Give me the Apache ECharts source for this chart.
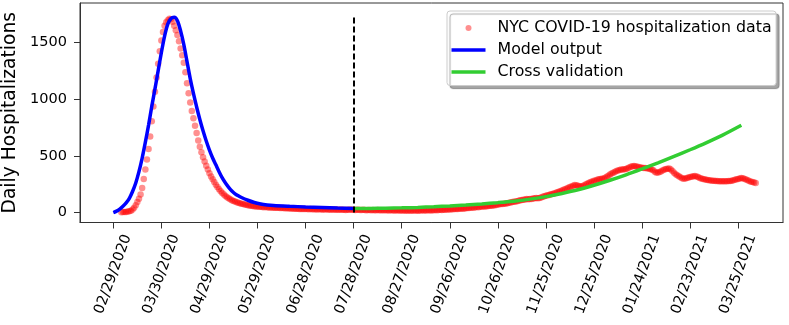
<!DOCTYPE html>
<html><head><meta charset="utf-8">
<script src="https://cdn.jsdelivr.net/npm/echarts@6/dist/echarts.min.js"></script>
<style>html,body{margin:0;padding:0;background:#fff}#c{width:789px;height:325px}</style>
</head><body><div id="c"></div>
<script>
// ---------- data ----------
const startDate = '02/29/2020';
const tickLabels = ['02/29/2020','03/30/2020','04/29/2020','05/29/2020','06/28/2020','07/28/2020',
  '08/27/2020','09/26/2020','10/26/2020','11/25/2020','12/25/2020','01/24/2021','02/23/2021','03/25/2021'];
const yTicks = [0, 500, 1000, 1500];

const redStartDate = '03/05/2020';
const redValues = [
  3, 4, 5, 5, 8, 11, 16, 26, 42, 65,
  92, 122, 158, 215, 295, 380, 468, 560, 670, 805,
  935, 1065, 1190, 1310, 1420, 1515, 1590, 1645, 1676, 1695,
  1708, 1702, 1680, 1645, 1605, 1565, 1510, 1445, 1385, 1320,
  1235, 1140, 1050, 970, 895, 830, 765, 700, 635, 580,
  530, 488, 450, 413, 378, 345, 318, 292, 268, 245,
  225, 206, 188, 172, 158, 146, 135, 125, 117, 109,
  102, 96, 91, 87, 82, 78, 75, 71, 68, 65,
  62, 60, 58, 56, 54, 52, 51, 50, 49, 47,
  48, 46, 45, 44, 45, 43, 42, 41, 42, 40,
  39, 40, 38, 37, 38, 36, 35, 36, 34, 33,
  34, 32, 31, 32, 30, 31, 30, 29, 30, 28,
  29, 28, 27, 29, 28, 27, 26, 27, 28, 26,
  25, 27, 26, 25, 26, 24, 25, 26, 24, 25,
  23, 25, 24, 26, 25, 24, 23, 25, 24, 22,
  23, 24, 22, 21, 23, 22, 21, 22, 20, 21,
  22, 20, 19, 21, 20, 19, 20, 18, 19, 20,
  18, 17, 19, 18, 17, 18, 17, 18, 16, 17,
  18, 16, 17, 18, 17, 16, 17, 18, 19, 17,
  18, 19, 20, 18, 19, 21, 22, 20, 22, 24,
  23, 25, 24, 26, 27, 26, 28, 29, 31, 30,
  32, 33, 35, 34, 36, 38, 40, 39, 42, 44,
  43, 46, 48, 47, 50, 52, 54, 53, 56, 58,
  60, 59, 62, 65, 67, 70, 72, 75, 74, 78,
  80, 82, 86, 88, 92, 95, 98, 100, 104, 107,
  110, 112, 115, 118, 116, 119, 120, 123, 126, 128,
  125, 127, 132, 138, 143, 148, 152, 155, 160, 163,
  168, 172, 178, 183, 188, 194, 200, 206, 211, 218,
  225, 230, 236, 242, 240, 236, 232, 230, 233, 240,
  248, 256, 262, 268, 274, 279, 283, 288, 292, 295,
  298, 300, 306, 315, 325, 335, 343, 350, 358, 365,
  371, 375, 378, 380, 381, 383, 390, 397, 403, 408,
  410, 408, 404, 400, 397, 394, 393, 392, 390, 388,
  384, 380, 372, 360, 350, 352, 358, 364, 372, 378,
  383, 386, 388, 380, 365, 350, 338, 328, 320, 310,
  302, 298, 300, 304, 308, 312, 316, 320, 322, 318,
  312, 305, 300, 296, 292, 289, 286, 284, 282, 280,
  279, 278, 277, 276, 276, 275, 275, 276, 276, 277,
  278, 280, 284, 288, 292, 296, 300, 305, 302, 296,
  290, 284, 278, 272, 268, 264, 260
];

// model output (days since start date)
const blueDays = [0,2,4,6,8,10,12,14,16,18,20,22,24,26,28,30,32,34,36,38,40,42,44,46,48,50,52,54,56,58,60,62,64,66,68,70,72,74,76,78,80,84,88,92,96,100,110,120,130,140,150];
const blueValues = [0,12,30,55,85,125,185,260,360,480,620,770,935,1090,1250,1410,1555,1660,1710,1720,1690,1600,1480,1330,1180,1050,930,820,720,630,550,480,420,360,305,260,222,190,165,147,132,108,88,75,67,62,55,49,44,39,35];

// cross validation
const greenDays = [150,160,170,180,190,200,210,220,230,240,250,260,270,280,290,300,310,320,330,340,350,360,370,380,392];
const greenValues = [35,36,38,41,45,51,58,66,76,87,100,118,140,168,200,240,284,332,384,438,495,553,614,680,769];

const cutoffDay = 150;
const cutoffTop = 1740;

const seriesNames = ['NYC COVID-19 hospitalization data', 'Model output', 'Cross validation'];

// ---------- build ----------
function toUTC(s){ const [m,d,y] = s.split('/').map(Number); return Date.UTC(y, m-1, d); }
const t0 = toUTC(startDate);
const dayOf = s => Math.round((toUTC(s) - t0) / 86400000);
const tickDays = tickLabels.map(dayOf);
const labelByDay = {}; tickDays.forEach((d,i)=>labelByDay[d]=tickLabels[i]);
const redStart = dayOf(redStartDate);
const redData = redValues.map((v,i)=>[redStart+i, v]);
const blueData = blueDays.map((d,i)=>[d, blueValues[i]]);
const greenData = greenDays.map((d,i)=>[d, greenValues[i]]);

const FONT = 'DejaVu Sans';
const RED = 'rgba(255,0,0,0.55)';
const chart = echarts.init(document.getElementById('c'), null, {renderer:'canvas'});
const linePath = 'path://M0 0H34V3.5H0Z';
chart.setOption({
  animation: false,
  backgroundColor: '#fff',
  grid: {left: 80, top: 3, width: 703, height: 219.5, outerBoundsMode: 'none', containLabel: false,
         show: true, borderColor: '#333', borderWidth: 1, backgroundColor: 'transparent'},
  legend: {
    orient: 'vertical', left: 447, top: 11,
    itemWidth: 34, itemHeight: 6, itemGap: 6,
    padding: [9, 4.5, 5.5, 4.5],
    backgroundColor: '#fff', borderColor: '#ccc', borderWidth: 1, borderRadius: 3,
    shadowColor: 'rgba(0,0,0,0.35)', shadowBlur: 1, shadowOffsetX: 3, shadowOffsetY: 3,
    symbolKeepAspect: true,
    formatter: n => '{t|' + n + '}',
    textStyle: {fontFamily: FONT, fontSize: 15.8, color: '#000',
      rich: {t: {fontFamily: FONT, fontSize: 15.8, color: '#000', lineHeight: 18, padding: [0,0,0,7]}}},
    data: [
      {name: seriesNames[0], icon: 'circle', itemStyle: {color: RED}},
      {name: seriesNames[1], icon: linePath, itemStyle: {color: '#0000ff'}},
      {name: seriesNames[2], icon: linePath, itemStyle: {color: '#32cd32'}}
    ]
  },
  xAxis: {
    type: 'value', min: -20.8, max: 418,
    splitLine: {show: false},
    axisLine: {show: true, onZero: false, lineStyle: {color: '#333', width: 1}},
    axisTick: {show: true, length: 6, customValues: tickDays, lineStyle: {color: '#333'}},
    axisLabel: {
      customValues: tickDays, rotate: 70, margin: 7.3,
      verticalAlign: 'top', lineHeight: 30,
      fontFamily: FONT, fontSize: 14.5, color: '#000',
      formatter: v => labelByDay[Math.round(v)] || ''
    }
  },
  yAxis: {
    type: 'value', min: -88, max: 1846,
    splitLine: {show: false},
    axisLine: {show: true, onZero: false, lineStyle: {color: '#333', width: 1}},
    axisTick: {show: true, length: 6, customValues: yTicks, lineStyle: {color: '#333'}},
    axisLabel: {customValues: yTicks, margin: 13, fontFamily: FONT, fontSize: 14.5, color: '#000',
      formatter: v => String(Math.round(v))},
    name: 'Daily Hospitalizations', nameLocation: 'middle', nameRotate: 90, nameGap: 60,
    nameTextStyle: {fontFamily: FONT, fontSize: 18.7, color: '#000'}
  },
  series: [
    {name: seriesNames[0], type: 'scatter', data: redData, symbolSize: 6.5,
     itemStyle: {color: RED}, z: 2},
    {name: seriesNames[1], type: 'line', data: blueData, showSymbol: false, symbol: 'none', smooth: 0.3,
     color: '#0000ff', lineStyle: {color: '#0000ff', width: 3.5}, z: 3},
    {name: seriesNames[2], type: 'line', data: greenData, showSymbol: false, symbol: 'none', smooth: 0.3,
     color: '#32cd32', lineStyle: {color: '#32cd32', width: 3.5}, z: 4,
     markLine: {silent: true, symbol: ['none','none'], label: {show: false}, z: 10,
       lineStyle: {color: '#000', width: 2, type: [6, 3]},
       data: [[{coord: [cutoffDay, 0]}, {coord: [cutoffDay, cutoffTop]}]]}}
  ]
});
</script></body></html>
